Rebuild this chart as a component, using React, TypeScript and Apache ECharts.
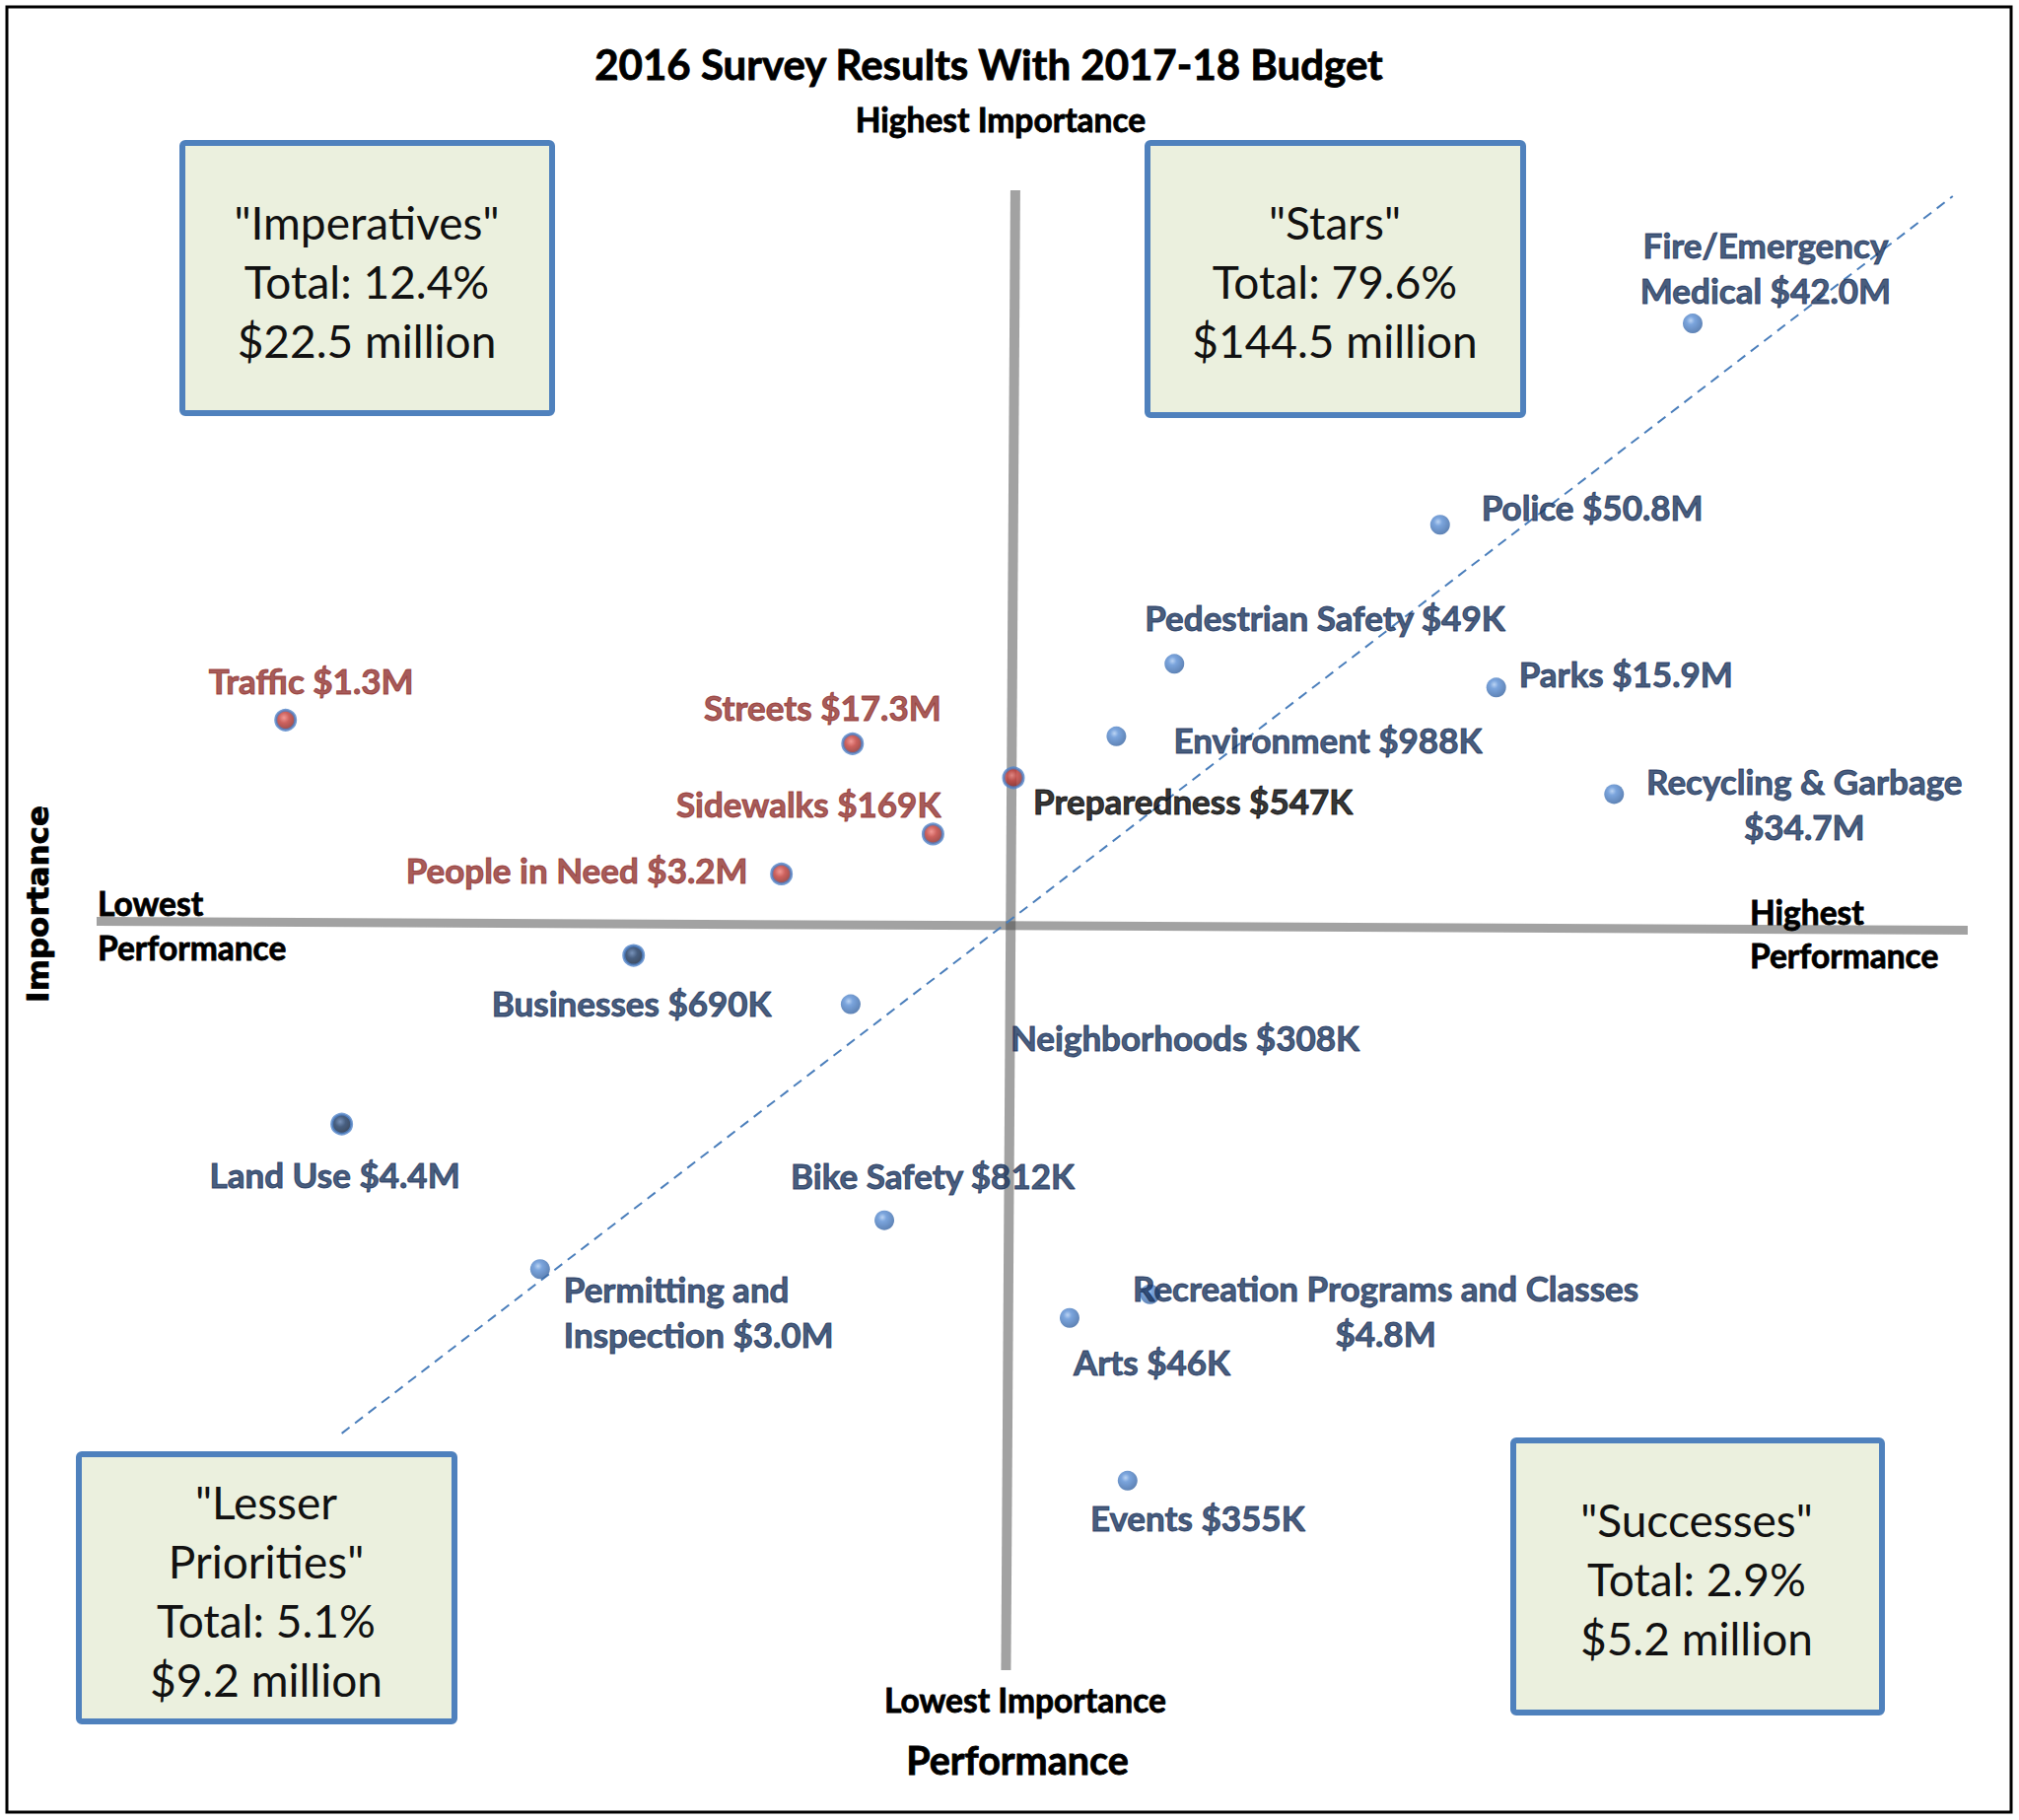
import React, { useEffect, useRef } from "react";
import * as echarts from "echarts";

// ---- Data (performance = x, importance = y, on an arbitrary 0–100 survey scale) ----
const services = [
  "Fire/Emergency Medical", "Police", "Pedestrian Safety", "Parks", "Environment",
  "Recycling & Garbage", "Preparedness", "Streets", "Sidewalks", "People in Need",
  "Traffic", "Businesses", "Neighborhoods", "Land Use", "Bike Safety",
  "Permitting and Inspection", "Arts", "Recreation Programs and Classes", "Events",
];
const performance = [
  85.3, 71.8, 57.6, 74.8, 54.5, 81.1, 49.0, 40.4, 44.7, 36.6,
  10.1, 28.7, 40.3, 13.1, 42.1, 23.7, 52.0, 56.3, 55.1,
];
const importance = [
  91.0, 77.4, 68.0, 66.4, 63.1, 59.2, 60.3, 62.6, 56.5, 53.8,
  64.2, 48.3, 45.0, 36.9, 30.4, 27.1, 23.8, 25.4, 12.8,
];
const budgets = [
  "$42.0M", "$50.8M", "$49K", "$15.9M", "$988K", "$34.7M", "$547K", "$17.3M", "$169K", "$3.2M",
  "$1.3M", "$690K", "$308K", "$4.4M", "$812K", "$3.0M", "$46K", "$4.8M", "$355K",
];
const pointKind = [
  "blue", "blue", "blue", "blue", "blue", "blue", "red", "red", "red", "red",
  "red", "dark", "blue", "dark", "blue", "blue", "blue", "blue", "blue",
];
const labelTexts = [
  "Fire/Emergency\nMedical $42.0M", "Police $50.8M", "Pedestrian Safety $49K", "Parks $15.9M",
  "Environment $988K", "Recycling & Garbage\n$34.7M", "Preparedness $547K", "Streets $17.3M",
  "Sidewalks $169K", "People in Need $3.2M", "Traffic $1.3M", "Businesses $690K",
  "Neighborhoods $308K", "Land Use $4.4M", "Bike Safety $812K", "Permitting and\nInspection $3.0M",
  "Arts $46K", "Recreation Programs and Classes\n$4.8M", "Events $355K",
];
const quadrantTitles = ["\"Imperatives\"", "\"Stars\"", "\"Lesser\nPriorities\"", "\"Successes\""];
const quadrantShares = ["Total: 12.4%", "Total: 79.6%", "Total: 5.1%", "Total: 2.9%"];
const quadrantBudgets = ["$22.5 million", "$144.5 million", "$9.2 million", "$5.2 million"];
// quadrant divider lines & trend line (data units)
const verticalDivider = [[49.1, 100], [48.6, 0]];
const horizontalDivider = [[0, 50.6], [100, 50.0]];
const trendLine = [[13.1, 16.0], [99.2, 99.6]];

// ---- Styling / layout (kept apart from the data) ----
const NAVY = "#17315a";
const RED = "#8f2f2c";
const labelLayout: Record<string, { dx: number; dy: number; align: string; color?: string }> = {
  "Fire/Emergency Medical": { dx: 74, dy: -57, align: "center" },
  "Police": { dx: 42, dy: -18, align: "left" },
  "Pedestrian Safety": { dx: -30, dy: -47, align: "left" },
  "Parks": { dx: 23, dy: -14, align: "left" },
  "Environment": { dx: 58, dy: 3, align: "left" },
  "Recycling & Garbage": { dx: 193, dy: 10, align: "center" },
  "Preparedness": { dx: 20, dy: 23, align: "left", color: "#000000" },
  "Streets": { dx: 90, dy: -37, align: "right", color: RED },
  "Sidewalks": { dx: 8, dy: -31, align: "right", color: RED },
  "People in Need": { dx: -34, dy: -4, align: "right", color: RED },
  "Traffic": { dx: 26, dy: -40, align: "center", color: RED },
  "Businesses": { dx: -2, dy: 48, align: "center" },
  "Neighborhoods": { dx: 162, dy: 33, align: "left" },
  "Land Use": { dx: -7, dy: 51, align: "center" },
  "Bike Safety": { dx: 49, dy: -46, align: "center" },
  "Permitting and Inspection": { dx: 24, dy: 43, align: "left" },
  "Arts": { dx: 4, dy: 44, align: "left" },
  "Recreation Programs and Classes": { dx: 239, dy: 16, align: "center" },
  "Events": { dx: 71, dy: 37, align: "center" },
};

const LABEL_FONT = "Lato";
const LABEL_SIZE = 35;

function markerStyle(kind: string) {
  if (kind === "red") {
    return {
      color: {
        type: "radial", x: 0.42, y: 0.38, r: 0.6,
        colorStops: [
          { offset: 0, color: "#ee7f7a" },
          { offset: 0.45, color: "#c03a35" },
          { offset: 1, color: "#862422" },
        ],
      },
      borderColor: "#4f82c8",
      borderWidth: 3,
    };
  }
  if (kind === "dark") {
    return {
      color: {
        type: "radial", x: 0.42, y: 0.38, r: 0.6,
        colorStops: [
          { offset: 0, color: "#5677a8" },
          { offset: 0.45, color: "#1a3761" },
          { offset: 1, color: "#0d1f3a" },
        ],
      },
      borderColor: "#4f82c8",
      borderWidth: 3,
    };
  }
  return {
    color: {
      type: "radial", x: 0.4, y: 0.35, r: 0.7,
      colorStops: [
        { offset: 0, color: "#a9c8f0" },
        { offset: 0.3, color: "#5a8ed4" },
        { offset: 1, color: "#33609e" },
      ],
    },
    borderWidth: 0,
  };
}

function boxRect(x: number, y: number, w: number, h: number) {
  return {
    type: "rect",
    shape: { x, y, width: w, height: h, r: 3 },
    style: { fill: "#ebf0de", stroke: "#4f81bd", lineWidth: 6 },
    z: 10,
  };
}

function boxText(x: number, y: number, text: string) {
  return {
    type: "text",
    z: 11,
    style: {
      text, x, y,
      fill: "#111111",
      font: "400 46px Lato",
      fontFamily: "Lato", fontSize: 46,
      align: "center", verticalAlign: "middle",
      textAlign: "center", textVerticalAlign: "middle",
      lineHeight: 60,
    },
  };
}

function plainText(x: number, y: number, text: string, size: number, align = "center", weight = "bold", family = "Lato") {
  return {
    type: "text",
    z: 12,
    style: {
      text, x, y,
      fill: "#000000",
      stroke: "#000000",
      lineWidth: 0.8,
      font: `${weight} ${size}px ${family}`,
      fontFamily: family, fontSize: size, fontWeight: weight,
      align, verticalAlign: "middle",
      textAlign: align, textVerticalAlign: "middle",
      lineHeight: size * 1.4,
    },
  };
}

export default function App() {
  const ref = useRef<HTMLDivElement>(null);

  useEffect(() => {
    document.body.style.margin = "0";
    document.body.style.background = "#ffffff";
    if (!ref.current) return;
    const chart = echarts.init(ref.current, undefined, { renderer: "svg" });

    const pointData = services.map((name, i) => {
      const lay = labelLayout[name];
      const c = lay.color || NAVY;
      return {
        name,
        value: [performance[i], importance[i]],
        itemStyle: markerStyle(pointKind[i]),
        label: {
          show: true,
          position: "inside",
          offset: [lay.dx, lay.dy],
          align: lay.align,
          verticalAlign: "middle",
          color: c,
          textBorderColor: c,
          textBorderWidth: 1,
          formatter: labelTexts[i],
        },
      };
    });

    const rotated: any = plainText(0, 0, "Importance", 31, "center", "bold", "DejaVu Sans");
    rotated.x = 38;
    rotated.y = 917;
    rotated.rotation = Math.PI / 2;

    const option: any = {
      animation: false,
      backgroundColor: "#ffffff",
      grid: { left: 98, top: 193, width: 1898, height: 1501, containLabel: false },
      xAxis: { type: "value", min: 0, max: 100, show: false },
      yAxis: { type: "value", min: 0, max: 100, show: false },
      series: [
        {
          type: "line",
          data: verticalDivider,
          symbol: "none",
          lineStyle: { color: "rgba(70,70,70,0.5)", width: 10 },
          z: 1,
          silent: true,
        },
        {
          type: "line",
          data: horizontalDivider,
          symbol: "none",
          lineStyle: { color: "rgba(70,70,70,0.5)", width: 9 },
          z: 1,
          silent: true,
        },
        {
          type: "line",
          data: trendLine,
          symbol: "none",
          lineStyle: { color: "#4a7ebb", width: 2, type: [10, 7] },
          z: 2,
          silent: true,
        },
        {
          type: "scatter",
          data: pointData,
          symbol: "circle",
          symbolSize: 20,
          z: 5,
          label: {
            fontFamily: LABEL_FONT,
            fontWeight: "bold",
            fontSize: LABEL_SIZE,
            lineHeight: 46,
          },
        },
      ],
      graphic: [
        {
          type: "rect",
          shape: { x: 7, y: 7, width: 2033, height: 1831 },
          style: { fill: "none", stroke: "#000000", lineWidth: 3 },
          z: 20,
          silent: true,
        },
        plainText(1003, 65, "2016 Survey Results With 2017-18 Budget", 42),
        plainText(1015, 121, "Highest Importance", 33.5),
        plainText(1040, 1724, "Lowest Importance", 33.5),
        plainText(1032, 1784, "Performance", 39.5),
        plainText(99, 916, "Lowest", 33.5, "left"),
        plainText(99, 961, "Performance", 33.5, "left"),
        plainText(1775, 925, "Highest", 33.5, "left"),
        plainText(1775, 969, "Performance", 33.5, "left"),
        rotated,
        boxRect(185, 145, 375, 274),
        boxText(372, 285, [quadrantTitles[0], quadrantShares[0], quadrantBudgets[0]].join("\n")),
        boxRect(1164, 145, 381, 276),
        boxText(1354, 285, [quadrantTitles[1], quadrantShares[1], quadrantBudgets[1]].join("\n")),
        boxRect(80, 1475, 381, 271),
        boxText(270, 1613, [quadrantTitles[2], quadrantShares[2], quadrantBudgets[2]].join("\n")),
        boxRect(1535, 1461, 374, 276),
        boxText(1721, 1601, [quadrantTitles[3], quadrantShares[3], quadrantBudgets[3]].join("\n")),
      ],
    };

    chart.setOption(option);
    return () => chart.dispose();
  }, []);

  return <div ref={ref} style={{ width: 2048, height: 1846 }} />;
}
